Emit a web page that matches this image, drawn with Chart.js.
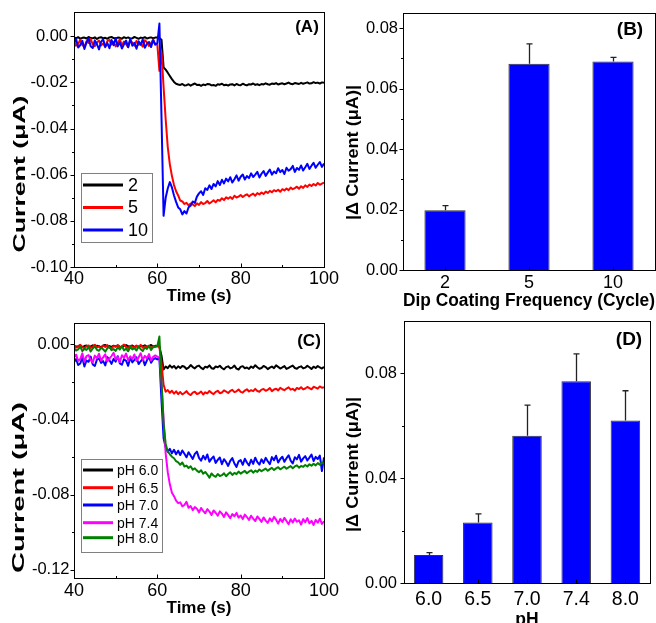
<!DOCTYPE html>
<html>
<head>
<meta charset="utf-8">
<script src="https://cdn.jsdelivr.net/npm/chart.js@4/dist/chart.umd.min.js"></script>
<style>
  html, body { margin: 0; padding: 0; background: #fff; overflow: hidden; width: 656px; height: 623px; }
  canvas { position: absolute; }
</style>
</head>
<body>
<canvas id="cA" width="345" height="310" style="left:0;top:0;width:345px;height:310px"></canvas>
<canvas id="cB" width="326" height="310" style="left:330px;top:0;width:326px;height:310px"></canvas>
<canvas id="cC" width="345" height="313" style="left:0;top:310px;width:345px;height:313px"></canvas>
<canvas id="cD" width="326" height="330" style="left:330px;top:310px;width:326px;height:330px"></canvas>
<script>
// ---------------- DATA ----------------
const time = [
  40,40.5,41,41.5,42,42.5,43,43.5,44,44.5,
  45,45.5,46,46.5,47,47.5,48,48.5,49,49.5,
  50,50.5,51,51.5,52,52.5,53,53.5,54,54.5,
  55,55.5,56,56.5,57,57.5,58,58.5,59,59.5,
  60,60.5,61,61.5,62,62.5,63,63.5,64,64.5,
  65,65.5,66,66.5,67,67.5,68,68.5,69,69.5,
  70,70.5,71,71.5,72,72.5,73,73.5,74,74.5,
  75,75.5,76,76.5,77,77.5,78,78.5,79,79.5,
  80,80.5,81,81.5,82,82.5,83,83.5,84,84.5,
  85,85.5,86,86.5,87,87.5,88,88.5,89,89.5,
  90,90.5,91,91.5,92,92.5,93,93.5,94,94.5,
  95,95.5,96,96.5,97,97.5,98,98.5,99,99.5,
  100
];

// Panel A : dip coating cycles
const seriesNamesA = ['2', '5', '10'];
const currentA2 = [
  -0.0005,-0.0009,-0.0004,-0.0011,-0.0007,-0.0006,-0.0010,-0.0003,-0.0008,-0.0009,
  -0.0005,-0.0012,-0.0006,-0.0004,-0.0009,-0.0007,-0.0011,-0.0005,-0.0003,-0.0008,
  -0.0010,-0.0006,-0.0007,-0.0011,-0.0004,-0.0008,-0.0005,-0.0010,-0.0009,-0.0003,
  -0.0007,-0.0011,-0.0006,-0.0008,-0.0004,-0.0010,-0.0007,-0.0005,-0.0009,-0.0006,
  -0.0006,-0.0008,-0.0015,-0.0135,-0.0145,-0.0158,-0.0172,-0.0186,-0.0198,-0.0206,-0.0209,
  -0.0211,-0.0207,-0.0213,-0.0212,-0.0208,-0.0214,-0.0209,-0.0205,-0.0211,-0.0210,
  -0.0215,-0.0209,-0.0212,-0.0207,-0.0208,-0.0213,-0.0211,-0.0215,-0.0208,-0.0210,
  -0.0206,-0.0212,-0.0210,-0.0214,-0.0209,-0.0208,-0.0213,-0.0207,-0.0211,-0.0212,
  -0.0206,-0.0210,-0.0213,-0.0208,-0.0209,-0.0205,-0.0211,-0.0208,-0.0212,-0.0207,
  -0.0209,-0.0204,-0.0208,-0.0210,-0.0205,-0.0207,-0.0203,-0.0209,-0.0206,-0.0204,
  -0.0208,-0.0205,-0.0201,-0.0206,-0.0208,-0.0203,-0.0205,-0.0207,-0.0202,-0.0206,
  -0.0203,-0.0200,-0.0205,-0.0204,-0.0199,-0.0203,-0.0201,-0.0205,-0.0200,-0.0202
];
const currentA5 = [
  -0.0024,-0.0041,-0.0033,-0.0015,-0.0038,-0.0046,-0.0022,-0.0029,-0.0012,-0.0035,
  -0.0043,-0.0027,-0.0019,-0.0040,-0.0031,-0.0048,-0.0021,-0.0016,-0.0036,-0.0025,
  -0.0044,-0.0030,-0.0013,-0.0039,-0.0023,-0.0034,-0.0047,-0.0018,-0.0028,-0.0041,
  -0.0020,-0.0037,-0.0032,-0.0045,-0.0017,-0.0026,-0.0042,-0.0030,-0.0014,-0.0036,
  -0.0035,-0.0150,-0.0070,-0.0220,-0.0360,-0.0480,-0.0555,-0.0605,-0.0645,-0.0672,-0.0690,
  -0.0712,-0.0716,-0.0727,-0.0722,-0.0733,-0.0725,-0.0729,-0.0736,-0.0724,-0.0731,
  -0.0719,-0.0727,-0.0723,-0.0714,-0.0725,-0.0718,-0.0711,-0.0720,-0.0709,-0.0713,
  -0.0702,-0.0710,-0.0698,-0.0704,-0.0697,-0.0705,-0.0691,-0.0699,-0.0695,-0.0688,
  -0.0697,-0.0690,-0.0685,-0.0694,-0.0687,-0.0682,-0.0691,-0.0680,-0.0686,-0.0677,
  -0.0684,-0.0673,-0.0679,-0.0670,-0.0676,-0.0667,-0.0672,-0.0665,-0.0674,-0.0663,
  -0.0668,-0.0660,-0.0667,-0.0656,-0.0663,-0.0658,-0.0652,-0.0661,-0.0650,-0.0657,
  -0.0646,-0.0653,-0.0643,-0.0649,-0.0640,-0.0647,-0.0636,-0.0644,-0.0639,-0.0634
];
const currentA10 = [
  -0.0031,-0.0012,-0.0049,-0.0038,-0.0020,-0.0055,-0.0027,-0.0009,-0.0043,-0.0051,
  -0.0018,-0.0034,-0.0057,-0.0024,-0.0013,-0.0046,-0.0030,-0.0052,-0.0016,-0.0039,
  -0.0008,-0.0044,-0.0026,-0.0053,-0.0035,-0.0019,-0.0048,-0.0011,-0.0041,-0.0029,
  -0.0054,-0.0022,-0.0037,-0.0014,-0.0050,-0.0033,-0.0025,-0.0047,-0.0017,-0.0036,
  -0.0030,0.0055,-0.0350,-0.0778,-0.0700,-0.0660,-0.0632,-0.0655,-0.0690,-0.0718,-0.0742,
  -0.0750,-0.0772,-0.0758,-0.0768,-0.0741,-0.0734,-0.0716,-0.0722,-0.0695,-0.0681,
  -0.0672,-0.0688,-0.0659,-0.0666,-0.0646,-0.0662,-0.0640,-0.0651,-0.0628,-0.0645,
  -0.0622,-0.0638,-0.0617,-0.0629,-0.0611,-0.0634,-0.0620,-0.0603,-0.0626,-0.0609,
  -0.0599,-0.0621,-0.0606,-0.0615,-0.0594,-0.0610,-0.0600,-0.0588,-0.0612,-0.0596,
  -0.0584,-0.0605,-0.0591,-0.0578,-0.0600,-0.0586,-0.0594,-0.0572,-0.0589,-0.0580,
  -0.0597,-0.0570,-0.0583,-0.0576,-0.0562,-0.0588,-0.0571,-0.0579,-0.0560,-0.0582,
  -0.0568,-0.0553,-0.0575,-0.0561,-0.0549,-0.0570,-0.0557,-0.0545,-0.0566,-0.0552
];

// Panel B : |delta current| vs dip coating frequency
const cyclesB = ['2', '5', '10'];
const deltaB = [0.0198, 0.0682, 0.0690];
const errB = [0.0015, 0.0066, 0.0013];

// Panel C : pH
const seriesNamesC = ['pH 6.0', 'pH 6.5', 'pH 7.0', 'pH 7.4', 'pH 8.0'];
const currentC60 = [
  -0.0007,-0.0012,-0.0010,-0.0004,-0.0015,-0.0009,-0.0006,-0.0013,-0.0011,-0.0005,
  -0.0014,-0.0008,-0.0010,-0.0016,-0.0006,-0.0003,-0.0012,-0.0009,-0.0014,-0.0007,
  -0.0011,-0.0005,-0.0013,-0.0015,-0.0008,-0.0004,-0.0010,-0.0012,-0.0006,-0.0014,
  -0.0009,-0.0016,-0.0007,-0.0011,-0.0005,-0.0013,-0.0010,-0.0003,-0.0012,-0.0008,
  -0.0009,-0.0012,-0.0060,-0.0134,-0.0118,-0.0127,-0.0112,-0.0124,-0.0115,-0.0129,-0.0117,
  -0.0126,-0.0115,-0.0119,-0.0131,-0.0124,-0.0110,-0.0121,-0.0128,-0.0117,-0.0113,
  -0.0125,-0.0132,-0.0119,-0.0123,-0.0112,-0.0127,-0.0130,-0.0118,-0.0122,-0.0114,
  -0.0126,-0.0133,-0.0121,-0.0117,-0.0128,-0.0124,-0.0113,-0.0129,-0.0134,-0.0120,
  -0.0116,-0.0127,-0.0123,-0.0131,-0.0118,-0.0125,-0.0111,-0.0122,-0.0130,-0.0126,
  -0.0115,-0.0121,-0.0132,-0.0124,-0.0118,-0.0127,-0.0112,-0.0120,-0.0129,-0.0123,
  -0.0116,-0.0131,-0.0125,-0.0119,-0.0113,-0.0126,-0.0130,-0.0121,-0.0117,-0.0128,
  -0.0124,-0.0114,-0.0122,-0.0131,-0.0119,-0.0126,-0.0115,-0.0123,-0.0129,-0.0120
];
const currentC65 = [
  -0.0008,-0.0017,-0.0012,-0.0003,-0.0015,-0.0021,-0.0010,-0.0006,-0.0019,-0.0013,
  -0.0002,-0.0016,-0.0011,-0.0020,-0.0007,-0.0014,-0.0004,-0.0018,-0.0022,-0.0009,
  -0.0013,-0.0005,-0.0017,-0.0010,-0.0001,-0.0015,-0.0020,-0.0008,-0.0012,-0.0019,
  -0.0006,-0.0014,-0.0003,-0.0018,-0.0011,-0.0016,-0.0007,-0.0021,-0.0010,-0.0013,
  -0.0008,-0.0015,-0.0100,-0.0215,-0.0252,-0.0243,-0.0258,-0.0247,-0.0262,-0.0250,-0.0265,
  -0.0254,-0.0266,-0.0259,-0.0249,-0.0263,-0.0270,-0.0257,-0.0252,-0.0264,-0.0260,
  -0.0251,-0.0267,-0.0255,-0.0261,-0.0248,-0.0258,-0.0265,-0.0253,-0.0247,-0.0260,
  -0.0256,-0.0245,-0.0251,-0.0259,-0.0248,-0.0242,-0.0254,-0.0250,-0.0240,-0.0253,
  -0.0257,-0.0246,-0.0239,-0.0251,-0.0244,-0.0249,-0.0237,-0.0248,-0.0252,-0.0241,
  -0.0238,-0.0247,-0.0242,-0.0233,-0.0249,-0.0240,-0.0236,-0.0245,-0.0231,-0.0239,
  -0.0244,-0.0235,-0.0229,-0.0241,-0.0237,-0.0246,-0.0232,-0.0238,-0.0228,-0.0240,
  -0.0235,-0.0227,-0.0233,-0.0239,-0.0226,-0.0230,-0.0236,-0.0224,-0.0231,-0.0228
];
const currentC70 = [
  -0.0095,-0.0078,-0.0110,-0.0102,-0.0070,-0.0118,-0.0086,-0.0093,-0.0065,-0.0107,
  -0.0115,-0.0081,-0.0074,-0.0099,-0.0089,-0.0112,-0.0068,-0.0084,-0.0104,-0.0077,
  -0.0092,-0.0063,-0.0101,-0.0108,-0.0079,-0.0087,-0.0114,-0.0071,-0.0096,-0.0083,
  -0.0069,-0.0105,-0.0090,-0.0076,-0.0111,-0.0085,-0.0066,-0.0098,-0.0080,-0.0073,
  -0.0080,-0.0075,-0.0300,-0.0500,-0.0548,-0.0572,-0.0556,-0.0580,-0.0561,-0.0585,-0.0566,
  -0.0589,-0.0565,-0.0582,-0.0601,-0.0574,-0.0592,-0.0610,-0.0583,-0.0571,-0.0604,
  -0.0619,-0.0593,-0.0612,-0.0586,-0.0625,-0.0608,-0.0597,-0.0631,-0.0615,-0.0602,
  -0.0638,-0.0611,-0.0626,-0.0647,-0.0620,-0.0605,-0.0634,-0.0652,-0.0623,-0.0616,
  -0.0641,-0.0609,-0.0629,-0.0645,-0.0614,-0.0636,-0.0603,-0.0627,-0.0640,-0.0612,
  -0.0631,-0.0604,-0.0622,-0.0638,-0.0600,-0.0617,-0.0593,-0.0629,-0.0610,-0.0598,
  -0.0625,-0.0606,-0.0590,-0.0619,-0.0634,-0.0601,-0.0612,-0.0588,-0.0624,-0.0607,
  -0.0595,-0.0618,-0.0603,-0.0586,-0.0621,-0.0599,-0.0610,-0.0592,-0.0674,-0.0601
];
const currentC74 = [
  -0.0071,-0.0055,-0.0088,-0.0079,-0.0048,-0.0092,-0.0063,-0.0057,-0.0084,-0.0096,
  -0.0060,-0.0074,-0.0050,-0.0087,-0.0069,-0.0053,-0.0091,-0.0076,-0.0062,-0.0045,
  -0.0081,-0.0067,-0.0094,-0.0058,-0.0072,-0.0049,-0.0085,-0.0064,-0.0078,-0.0054,
  -0.0089,-0.0070,-0.0047,-0.0083,-0.0061,-0.0075,-0.0052,-0.0086,-0.0066,-0.0059,
  -0.0065,-0.0072,-0.0200,-0.0400,-0.0580,-0.0680,-0.0745,-0.0790,-0.0808,-0.0832,-0.0845,
  -0.0841,-0.0862,-0.0855,-0.0838,-0.0870,-0.0861,-0.0882,-0.0866,-0.0875,-0.0894,
  -0.0871,-0.0886,-0.0899,-0.0877,-0.0890,-0.0908,-0.0884,-0.0896,-0.0912,-0.0889,
  -0.0901,-0.0918,-0.0894,-0.0909,-0.0925,-0.0903,-0.0915,-0.0897,-0.0922,-0.0911,
  -0.0930,-0.0906,-0.0919,-0.0935,-0.0912,-0.0927,-0.0940,-0.0916,-0.0929,-0.0945,
  -0.0921,-0.0938,-0.0950,-0.0926,-0.0942,-0.0918,-0.0933,-0.0954,-0.0929,-0.0945,
  -0.0923,-0.0940,-0.0957,-0.0931,-0.0948,-0.0927,-0.0944,-0.0936,-0.0959,-0.0930,
  -0.0947,-0.0925,-0.0953,-0.0939,-0.0961,-0.0934,-0.0949,-0.0928,-0.0956,-0.0942
];
const currentC80 = [
  -0.0019,-0.0033,-0.0027,-0.0012,-0.0036,-0.0024,-0.0030,-0.0015,-0.0038,-0.0022,
  -0.0010,-0.0029,-0.0034,-0.0018,-0.0026,-0.0039,-0.0021,-0.0013,-0.0031,-0.0025,
  -0.0035,-0.0016,-0.0028,-0.0009,-0.0032,-0.0023,-0.0037,-0.0014,-0.0027,-0.0020,
  -0.0033,-0.0011,-0.0026,-0.0036,-0.0017,-0.0024,-0.0008,-0.0030,-0.0015,-0.0012,
  -0.0010,0.0042,-0.0200,-0.0420,-0.0530,-0.0570,-0.0585,-0.0598,-0.0606,-0.0622,-0.0628,
  -0.0641,-0.0629,-0.0650,-0.0645,-0.0658,-0.0649,-0.0667,-0.0660,-0.0672,-0.0681,
  -0.0670,-0.0688,-0.0679,-0.0693,-0.0710,-0.0687,-0.0699,-0.0705,-0.0690,-0.0701,
  -0.0696,-0.0686,-0.0702,-0.0690,-0.0681,-0.0695,-0.0684,-0.0691,-0.0677,-0.0688,
  -0.0680,-0.0674,-0.0686,-0.0677,-0.0670,-0.0683,-0.0672,-0.0679,-0.0666,-0.0675,
  -0.0668,-0.0661,-0.0673,-0.0664,-0.0657,-0.0669,-0.0660,-0.0654,-0.0665,-0.0658,
  -0.0651,-0.0662,-0.0655,-0.0648,-0.0659,-0.0650,-0.0644,-0.0656,-0.0647,-0.0652,
  -0.0642,-0.0650,-0.0638,-0.0646,-0.0635,-0.0644,-0.0632,-0.0641,-0.0629,-0.0637
];

// Panel D : |delta current| vs pH
const phD = ['6.0', '6.5', '7.0', '7.4', '8.0'];
const deltaD = [0.0108, 0.0232, 0.0563, 0.0770, 0.0621];
const errD = [0.0009, 0.0033, 0.0116, 0.0105, 0.0113];

// Tick values
const timeTicksMajor = [40, 60, 80, 100];
const timeTicksMinor = [50, 70, 90];
const yTicksA = [-0.10, -0.08, -0.06, -0.04, -0.02, 0.00];
const yMinorA = [-0.09, -0.07, -0.05, -0.03, -0.01];
const yTicksB = [0.00, 0.02, 0.04, 0.06, 0.08];
const yMinorB = [0.01, 0.03, 0.05, 0.07];
const yTicksC = [-0.12, -0.08, -0.04, 0.00];
const yMinorC = [-0.10, -0.06, -0.02];
const yTicksD = [0.00, 0.04, 0.08];
const yMinorD = [0.02, 0.06];

// ---------------- RENDERING ----------------
const FONT = '"Liberation Sans", Arial, Helvetica, sans-serif';
const BLACK = '#000000', RED = '#ff0000', BLUE = '#0000ff', MAGENTA = '#ff00ff', GREEN = '#008000';

const decor = {
  id: 'decor',
  afterDatasetsDraw(chart, args, o) {
    if (!o.errors) return;
    const ctx = chart.ctx, ys = chart.scales.y;
    const meta = chart.getDatasetMeta(0);
    const vals = chart.data.datasets[0].data;
    ctx.save();
    ctx.strokeStyle = '#222';
    ctx.lineWidth = 1.3;
    ctx.beginPath();
    meta.data.forEach((bar, i) => {
      const x = Math.round(bar.x) + 0.5;
      const yTop = ys.getPixelForValue(vals[i] + o.errors[i]);
      ctx.moveTo(x, bar.y);
      ctx.lineTo(x, yTop);
      ctx.moveTo(x - 3, yTop);
      ctx.lineTo(x + 3, yTop);
    });
    ctx.stroke();
    ctx.restore();
  },
  afterDraw(chart, args, o) {
    const ctx = chart.ctx, a = chart.chartArea;
    const xs = chart.scales.x, ys = chart.scales.y;
    ctx.save();
    ctx.strokeStyle = '#000';
    ctx.lineWidth = 1;
    const L = Math.round(a.left) + 0.5, T = Math.round(a.top) + 0.5;
    const R = Math.round(a.right) + 0.5, B = Math.round(a.bottom) + 0.5;
    ctx.strokeRect(L, T, R - L, B - T);
    ctx.beginPath();
    (o.xMajor || []).forEach(v => { const p = Math.round(xs.getPixelForValue(v)) + 0.5; ctx.moveTo(p, B); ctx.lineTo(p, B - 4); });
    (o.xMinor || []).forEach(v => { const p = Math.round(xs.getPixelForValue(v)) + 0.5; ctx.moveTo(p, B); ctx.lineTo(p, B - 2.5); });
    (o.yMajor || []).forEach(v => { const p = Math.round(ys.getPixelForValue(v)) + 0.5; ctx.moveTo(L, p); ctx.lineTo(L - 4, p); });
    (o.yMinor || []).forEach(v => { const p = Math.round(ys.getPixelForValue(v)) + 0.5; ctx.moveTo(L, p); ctx.lineTo(L - 2.5, p); });
    ctx.stroke();
    if (o.legend) {
      const lg = o.legend;
      ctx.fillStyle = '#fff';
      ctx.fillRect(lg.x, lg.y, lg.w, lg.h);
      ctx.strokeStyle = '#808080';
      ctx.lineWidth = 1;
      ctx.strokeRect(lg.x + 0.5, lg.y + 0.5, lg.w, lg.h);
      ctx.font = lg.size + 'px ' + FONT;
      ctx.textAlign = 'left';
      ctx.textBaseline = 'middle';
      chart.data.datasets.forEach((ds, i) => {
        const y = lg.rows[i];
        ctx.strokeStyle = ds.borderColor;
        ctx.lineWidth = 3;
        ctx.beginPath();
        ctx.moveTo(lg.x1, y);
        ctx.lineTo(lg.x2, y);
        ctx.stroke();
        ctx.fillStyle = '#000';
        ctx.fillText(ds.label, lg.tx, y + 1);
      });
    }
    if (o.tag) {
      ctx.fillStyle = '#000';
      ctx.font = 'bold ' + o.tag.size + 'px ' + FONT;
      ctx.textAlign = 'center';
      ctx.textBaseline = 'middle';
      ctx.fillText(o.tag.text, o.tag.x, o.tag.y);
    }
    if (o.ytitle) {
      const t = o.ytitle;
      ctx.save();
      ctx.translate(t.x, t.y);
      ctx.rotate(-Math.PI / 2);
      ctx.font = 'bold ' + t.size + 'px ' + FONT;
      const w = ctx.measureText(t.text).width;
      ctx.scale(t.len / w, 1);
      ctx.fillStyle = '#000';
      ctx.textAlign = 'center';
      ctx.textBaseline = 'middle';
      ctx.fillText(t.text, 0, 0);
      ctx.restore();
    }
    ctx.restore();
  }
};

function yScale(min, max, ticks, width, pad, size) {
  return {
    type: 'linear', position: 'left', min: min, max: max,
    grid: { display: false, drawTicks: false },
    border: { display: false },
    afterBuildTicks: s => { s.ticks = ticks.map(v => ({ value: v })); },
    afterFit: s => { s.width = width; s.paddingTop = 0; s.paddingBottom = 0; },
    ticks: {
      autoSkip: false, padding: pad, color: '#000',
      font: { family: FONT, size: size },
      callback: v => (Math.abs(v) < 1e-9 ? 0 : v).toFixed(2)
    }
  };
}

function xTitle(text, size, padBottom) {
  return { display: true, text: text, color: '#000', font: { family: FONT, size: size, weight: 'bold' }, padding: { top: 0, bottom: padBottom } };
}

function timeScale(height, pad, titlePad) {
  return {
    type: 'linear', position: 'bottom', min: 40, max: 100,
    grid: { display: false, drawTicks: false },
    border: { display: false },
    afterBuildTicks: s => { s.ticks = timeTicksMajor.map(v => ({ value: v })); },
    afterFit: s => { s.height = height; s.paddingLeft = 0; s.paddingRight = 0; },
    ticks: { autoSkip: false, maxRotation: 0, padding: pad, color: '#000', font: { family: FONT, size: 18 } },
    title: xTitle('Time (s)', 17, titlePad)
  };
}

function catScale(height, pad, size, text, tsize, titlePad) {
  return {
    type: 'category', position: 'bottom',
    grid: { display: false, drawTicks: false },
    border: { display: false },
    afterFit: s => { s.height = height; s.paddingLeft = 0; s.paddingRight = 0; },
    ticks: { autoSkip: false, maxRotation: 0, padding: pad, color: '#000', font: { family: FONT, size: size } },
    title: xTitle(text, tsize, titlePad)
  };
}

function line(label, values, color, order) {
  return {
    label: label, order: order,
    data: values.map((v, i) => ({ x: time[i], y: v })),
    borderColor: color, backgroundColor: color,
    borderWidth: 2, pointRadius: 0, tension: 0, fill: false,
    borderJoinStyle: 'round'
  };
}

const common = { responsive: false, animation: false, maintainAspectRatio: false, events: [] };

new Chart(document.getElementById('cA'), {
  type: 'line',
  data: { datasets: [
    line(seriesNamesA[0], currentA2, BLACK, 3),
    line(seriesNamesA[1], currentA5, RED, 2),
    line(seriesNamesA[2], currentA10, BLUE, 1)
  ] },
  options: Object.assign({}, common, {
    layout: { padding: { left: 0, top: 12, right: 21, bottom: 0 } },
    scales: { x: timeScale(43, 1, 3.8), y: yScale(-0.10, 0.0105, yTicksA, 74, 6, 16.5) },
    plugins: {
      legend: { display: false }, tooltip: { enabled: false },
      decor: {
        xMajor: timeTicksMajor, xMinor: timeTicksMinor, yMajor: yTicksA, yMinor: yMinorA,
        legend: { x: 81, y: 173, w: 71, h: 69, rows: [185, 207.5, 230], x1: 83, x2: 123, tx: 128, size: 18 },
        tag: { text: '(A)', x: 307, y: 27.5, size: 17 },
        ytitle: { text: 'Current (μA)', x: 20, y: 174, len: 157, size: 17 }
      }
    }
  }),
  plugins: [decor]
});

new Chart(document.getElementById('cB'), {
  type: 'bar',
  data: { labels: cyclesB, datasets: [{
    label: '|Δ Current (μA)|', data: deltaB,
    backgroundColor: BLUE, borderColor: '#333', borderWidth: 1,
    barPercentage: 0.49, categoryPercentage: 1.0
  }] },
  options: Object.assign({}, common, {
    layout: { padding: { left: 0, top: 13, right: 1, bottom: 0 } },
    scales: { x: catScale(40, 2, 18, 'Dip Coating Frequency (Cycle)', 17.5, -2), y: yScale(0, 0.085, yTicksB, 73, 5, 16.5) },
    plugins: {
      legend: { display: false }, tooltip: { enabled: false },
      decor: {
        errors: errB,
        xMajor: cyclesB.map((c, i) => i), yMajor: yTicksB, yMinor: yMinorB,
        tag: { text: '(B)', x: 300, y: 30, size: 19 },
        ytitle: { text: '|Δ Current (μA)|', x: 23.3, y: 152.5, len: 135, size: 17 }
      }
    }
  }),
  plugins: [decor]
});

new Chart(document.getElementById('cC'), {
  type: 'line',
  data: { datasets: [
    line(seriesNamesC[0], currentC60, BLACK, 5),
    line(seriesNamesC[1], currentC65, RED, 4),
    line(seriesNamesC[2], currentC70, BLUE, 3),
    line(seriesNamesC[3], currentC74, MAGENTA, 2),
    line(seriesNamesC[4], currentC80, GREEN, 1)
  ] },
  options: Object.assign({}, common, {
    layout: { padding: { left: 0, top: 13.3, right: 21, bottom: 0 } },
    scales: { x: timeScale(44.7, 1.5, 4.3), y: yScale(-0.1245, 0.0112, yTicksC, 74, 4.5, 16.5) },
    plugins: {
      legend: { display: false }, tooltip: { enabled: false },
      decor: {
        xMajor: timeTicksMajor, xMinor: timeTicksMinor, yMajor: yTicksC, yMinor: yMinorC,
        legend: { x: 81, y: 149, w: 81, h: 93, rows: [160, 177.7, 195, 212.7, 227.7], x1: 83, x2: 113, tx: 117, size: 14 },
        tag: { text: '(C)', x: 309, y: 31, size: 17 },
        ytitle: { text: 'Current (μA)', x: 19.5, y: 177.5, len: 171, size: 17 }
      }
    }
  }),
  plugins: [decor]
});

new Chart(document.getElementById('cD'), {
  type: 'bar',
  data: { labels: phD, datasets: [{
    label: '|Δ Current (μA)|', data: deltaD,
    backgroundColor: BLUE, borderColor: '#333', borderWidth: 1,
    barPercentage: 0.6, categoryPercentage: 1.0
  }] },
  options: Object.assign({}, common, {
    layout: { padding: { left: 0, top: 11, right: 6, bottom: 0 } },
    scales: { x: catScale(56.7, 4.5, 19.5, 'pH', 17.5, 9), y: yScale(0, 0.1, yTicksD, 74, 7, 16.5) },
    plugins: {
      legend: { display: false }, tooltip: { enabled: false },
      decor: {
        errors: errD,
        xMajor: phD.map((c, i) => i), yMajor: yTicksD, yMinor: yMinorD,
        tag: { text: '(D)', x: 299, y: 30, size: 19 },
        ytitle: { text: '|Δ Current (μA)|', x: 23.7, y: 154.5, len: 135, size: 17 }
      }
    }
  }),
  plugins: [decor]
});
</script>
</body>
</html>
